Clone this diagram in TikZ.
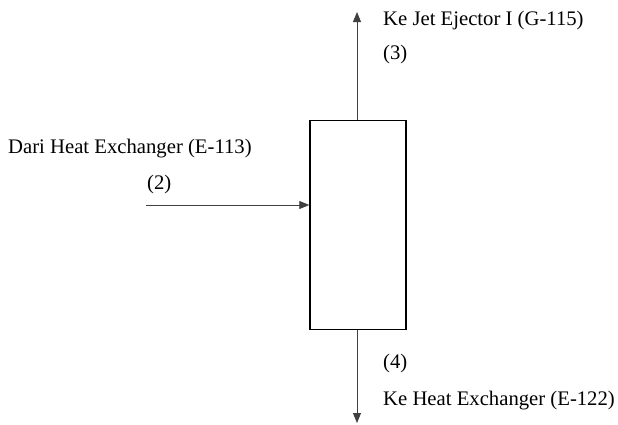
\documentclass[tikz,border=0pt]{standalone}
\usepackage{fontspec}
\setmainfont{Liberation Serif}
\usetikzlibrary{arrows.meta}

\begin{document}
\begin{tikzpicture}[x=1pt, y=-1pt,
	every node/.style={font=\fontsize{20.7}{24}\selectfont},
	label/.style={anchor=base west, inner sep=0pt},
	flow/.style={draw=black!75, line width=0.8pt, -{Triangle[length=10pt, width=8pt]}},
	vessel/.style={draw, line width=1.4pt, minimum width=96pt, minimum height=209pt, inner sep=0pt}]
	\useasboundingbox (0,0) rectangle (618,424);
	% separator
	\node[vessel] (sep) at (358,225) {};
	% free ends of the streams
	\coordinate (inlet) at (146,205);
	\coordinate (topout) at (357,12);
	\coordinate (botout) at (357,423);
	% streams
	\draw[flow] (inlet) -- (inlet -| sep.west);
	\draw[flow] (sep.north -| topout) -- (topout);
	\draw[flow] (sep.south -| botout) -- (botout);
	% labels
	\node[label] (inname) at (8,153) {Dari Heat Exchanger (E-113)};
	\node[label] (innum) at (147,189) {(2)};
	\node[label] (topname) at (383,25) {Ke Jet Ejector I (G-115)};
	\node[label] (topnum) at (383,59) {(3)};
	\node[label] (botnum) at (383,368) {(4)};
	\node[label] (botname) at (383,405) {Ke Heat Exchanger (E-122)};
\end{tikzpicture}
\end{document}
